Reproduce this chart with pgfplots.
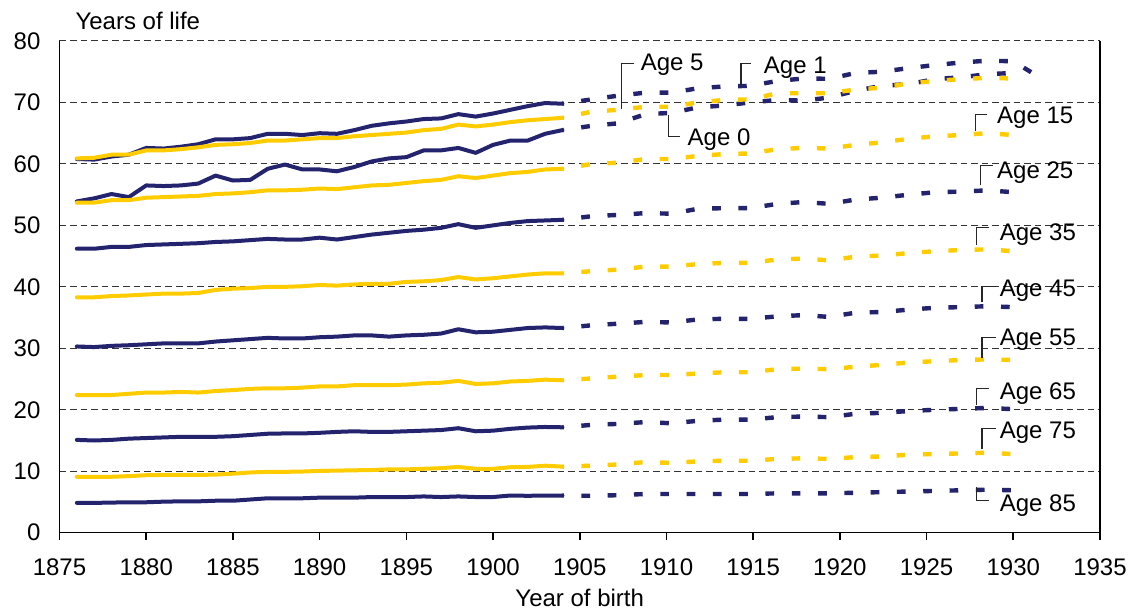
\documentclass[border=0pt]{standalone}
\usepackage{pgfplots}
\pgfplotsset{compat=1.18}
\usepackage{pgfplotstable}
\usepackage{fontspec}
\setmainfont{Liberation Sans}
\definecolor{navy}{HTML}{23236E}
\definecolor{gold}{HTML}{FFCC00}

\pgfplotstableread{
year a0 a1 a5 a15 a25 a35 a45 a55 a65 a75 a85
1876 53.9 60.8 60.9 53.7 46.2 38.3 30.3 22.4 15.1 9.1 4.85
1877 54.4 60.7 61.0 53.7 46.2 38.3 30.2 22.4 15.0 9.1 4.85
1878 55.1 61.2 61.5 54.1 46.5 38.5 30.4 22.4 15.1 9.1 4.9
1879 54.6 61.5 61.5 54.1 46.5 38.6 30.5 22.6 15.3 9.2 4.95
1880 56.5 62.6 62.2 54.5 46.8 38.75 30.65 22.8 15.4 9.35 4.95
1881 56.4 62.5 62.2 54.6 46.9 38.9 30.8 22.8 15.5 9.4 5.05
1882 56.5 62.8 62.4 54.7 47.0 38.9 30.8 22.9 15.6 9.4 5.1
1883 56.8 63.2 62.7 54.8 47.1 39.0 30.8 22.8 15.6 9.4 5.1
1884 58.1 64.0 63.1 55.1 47.3 39.5 31.1 23.05 15.6 9.45 5.2
1885 57.3 64.0 63.2 55.2 47.4 39.7 31.3 23.2 15.7 9.6 5.2
1886 57.4 64.2 63.4 55.4 47.6 39.8 31.5 23.4 15.9 9.8 5.4
1887 59.2 64.9 63.8 55.7 47.8 40.0 31.7 23.5 16.1 9.9 5.6
1888 59.9 64.9 63.8 55.7 47.7 40.0 31.6 23.5 16.15 9.9 5.6
1889 59.1 64.7 64.0 55.8 47.7 40.1 31.6 23.6 16.15 9.95 5.6
1890 59.1 65.0 64.2 56.0 48.0 40.3 31.8 23.8 16.25 10.05 5.7
1891 58.8 64.9 64.2 55.9 47.7 40.2 31.9 23.8 16.4 10.1 5.7
1892 59.5 65.5 64.5 56.2 48.1 40.4 32.1 24.0 16.5 10.15 5.7
1893 60.4 66.2 64.7 56.5 48.5 40.5 32.1 24.0 16.4 10.2 5.8
1894 60.9 66.6 64.9 56.6 48.8 40.5 31.9 24.0 16.4 10.3 5.8
1895 61.1 66.9 65.1 56.9 49.1 40.8 32.1 24.1 16.5 10.3 5.8
1896 62.2 67.3 65.5 57.2 49.3 40.9 32.2 24.3 16.6 10.4 5.9
1897 62.2 67.4 65.7 57.4 49.6 41.1 32.4 24.4 16.7 10.5 5.8
1898 62.6 68.1 66.4 58.0 50.2 41.6 33.1 24.7 17.0 10.7 5.9
1899 61.8 67.7 66.1 57.7 49.6 41.2 32.6 24.2 16.5 10.4 5.8
1900 63.1 68.2 66.4 58.1 50.0 41.4 32.7 24.3 16.6 10.4 5.8
1901 63.8 68.8 66.8 58.5 50.4 41.7 33.0 24.6 16.9 10.65 6.05
1902 63.8 69.4 67.1 58.7 50.7 42.0 33.3 24.7 17.1 10.7 6.0
1903 64.9 69.9 67.3 59.1 50.8 42.2 33.4 24.9 17.2 10.9 6.05
1904 65.5 69.8 67.5 59.2 50.9 42.2 33.3 24.8 17.15 10.75 6.05
}\solid

\pgfplotstableread{
year a0 a1 a5 a15 a25 a35 a45 a55 a65 a75 a85
1904 65.5 69.8 67.5 59.2 50.9 42.2 33.3 24.8 17.15 10.75 6.05
1905.7 66.2 70.5 68.5 60.0 51.5 42.55 33.75 25.1 17.55 10.9 6.0
1907.2 66.6 71.1 68.8 60.2 51.7 42.8 34.0 25.4 17.7 11.1 6.1
1908.8 68.1 71.6 69.3 60.8 52.0 43.3 34.3 25.65 18.0 11.5 6.3
1910.3 68.3 71.6 69.3 60.8 51.9 43.3 34.2 25.65 17.8 11.35 6.3
1911.8 69.2 72.3 70.0 61.3 52.7 43.7 34.7 25.9 18.2 11.6 6.3
1913.3 69.5 72.6 70.4 61.6 52.8 43.9 34.8 26.1 18.4 11.7 6.3
1914.8 70.0 72.7 70.5 61.7 52.8 43.9 34.8 26.1 18.4 11.7 6.3
1916.4 70.4 73.5 71.5 62.4 53.5 44.45 35.2 26.6 18.8 12.0 6.4
1917.9 70.3 73.9 71.5 62.6 53.8 44.6 35.4 26.7 18.9 12.1 6.4
1919.4 70.8 73.85 71.5 62.5 53.5 44.3 35.1 26.6 18.8 12.0 6.4
1920.9 71.9 74.8 72.1 63.1 54.2 44.9 35.8 27.0 19.35 12.3 6.5
1922.4 72.7 75.0 72.4 63.5 54.5 45.1 35.9 27.3 19.5 12.4 6.6
1924.0 73.0 75.6 73.1 64.1 55.0 45.5 36.3 27.7 19.8 12.7 6.7
1925.5 73.8 76.1 73.5 64.5 55.4 45.8 36.6 27.9 20.0 12.8 6.8
1927.0 74.1 76.5 73.8 64.7 55.5 46.0 36.7 28.1 20.15 12.9 6.9
1928.5 74.6 76.8 74.0 65.0 55.7 46.1 36.85 28.2 20.3 13.0 7.0
1930.0 74.8 76.7 73.9 64.7 55.4 45.8 36.7 28.1 20.1 12.8 6.9
1930.3 74.8 nan 73.9 64.7 55.4 45.8 36.7 28.1 20.1 12.8 6.9
1931.1 nan 74.8 nan nan nan nan nan nan nan nan nan
}\dashed

\tikzset{
  sol/.style={line width=2pt, line join=round, line cap=round},
  dsh/.style={line width=2.2pt, line cap=butt, line join=round, dash pattern=on 4.35pt off 8.8pt, dash phase=3.65pt},
  call/.style={black!85, line width=0.6pt},
  lab/.style={anchor=base west, inner sep=0pt, font=\fontsize{12}{14}\selectfont},
}

\begin{document}
\begin{tikzpicture}
\begin{axis}[
  at={(0,0)}, anchor=south west,
  scale only axis, width=520.25pt, height=245.85pt,
  xmin=1875, xmax=1935, ymin=0, ymax=80,
  xtick={1875,1880,...,1935}, ytick={0,10,...,80},
  xtick pos=left, ytick pos=left,
  tick align=outside,
  major tick length=3.5pt,
  ytick style={draw=none},
  xtick style={black, line width=0.8pt},
  axis line style={draw=none},
  ymajorgrids,
  grid style={black!80, line width=0.5pt, dash pattern=on 3.3pt off 2pt},
  tick label style={font=\fontsize{12}{14}\selectfont},
  xticklabel style={yshift=-6pt},
  yticklabel style={xshift=-2.5pt},
  /pgf/number format/assume math mode=true,
  /pgf/number format/1000 sep={},
  xlabel={Year of birth}, ylabel={Years of life},
  every axis x label/.style={at={(rel axis cs:0.5,0)}, anchor=center, yshift=-32.6pt, font=\fontsize{12}{14}\selectfont},
  every axis y label/.style={at={(rel axis cs:0,1)}, anchor=west, xshift=4.5pt, yshift=9.8pt, font=\fontsize{12}{14}\selectfont},
  clip=false,
  no markers,
]
\addplot[navy, sol] table[x=year, y=a0] {\solid};
\addplot[navy, sol] table[x=year, y=a1] {\solid};
\addplot[gold, sol] table[x=year, y=a5] {\solid};
\addplot[gold, sol] table[x=year, y=a15] {\solid};
\addplot[navy, sol] table[x=year, y=a25] {\solid};
\addplot[gold, sol] table[x=year, y=a35] {\solid};
\addplot[navy, sol] table[x=year, y=a45] {\solid};
\addplot[gold, sol] table[x=year, y=a55] {\solid};
\addplot[navy, sol] table[x=year, y=a65] {\solid};
\addplot[gold, sol] table[x=year, y=a75] {\solid};
\addplot[navy, sol] table[x=year, y=a85] {\solid};

\addplot[navy, dsh] table[x=year, y=a0] {\dashed};
\addplot[navy, dsh] table[x=year, y=a1] {\dashed};
\addplot[gold, dsh] table[x=year, y=a5] {\dashed};
\addplot[gold, dsh] table[x=year, y=a15] {\dashed};
\addplot[navy, dsh] table[x=year, y=a25] {\dashed};
\addplot[gold, dsh] table[x=year, y=a35] {\dashed};
\addplot[navy, dsh] table[x=year, y=a45] {\dashed};
\addplot[gold, dsh] table[x=year, y=a55] {\dashed};
\addplot[navy, dsh] table[x=year, y=a65] {\dashed};
\addplot[gold, dsh] table[x=year, y=a75] {\dashed};
\addplot[navy, dsh] table[x=year, y=a85] {\dashed};

% axis frame: left, bottom, right
\draw[black, line width=0.8pt] (rel axis cs:0,1) -- (rel axis cs:0,0) -- (rel axis cs:1,0) -- (rel axis cs:1,1);

% callouts
\draw[call] (axis cs:1907.4,68.9) |- (axis cs:1908.1,76.3);
\node[lab] at (axis cs:1908.5,75.2) {Age 5};
\draw[call] (axis cs:1914.3,72.9) |- (axis cs:1914.9,76.3);
\node[lab] at (axis cs:1915.6,74.7) {Age 1};
\draw[call] (axis cs:1910.1,68.0) |- (axis cs:1910.8,64.4);
\node[lab] at (axis cs:1911.2,63.0) {Age 0};
\draw[call] (axis cs:1927.8,65.4) |- (axis cs:1928.5,68.1);
\node[lab] at (axis cs:1929.05,66.6) {Age 15};
\draw[call] (axis cs:1928.1,56.5) |- (axis cs:1928.85,59.8);
\node[lab] at (axis cs:1929.05,57.7) {Age 25};
\draw[call] (axis cs:1927.9,46.8) |- (axis cs:1928.6,49.6);
\node[lab] at (axis cs:1929.2,47.6) {Age 35};
\draw[call] (axis cs:1928.2,37.6) |- (axis cs:1929.0,40.1);
\node[lab] at (axis cs:1929.2,38.5) {Age 45};
\draw[call] (axis cs:1928.2,28.5) |- (axis cs:1929.0,31.8);
\node[lab] at (axis cs:1929.2,30.4) {Age 55};
\draw[call] (axis cs:1927.9,20.8) |- (axis cs:1928.6,23.4);
\node[lab] at (axis cs:1929.2,21.7) {Age 65};
\draw[call] (axis cs:1928.2,13.6) |- (axis cs:1929.0,17.0);
\node[lab] at (axis cs:1929.2,15.4) {Age 75};
\draw[call] (axis cs:1927.9,7.4) |- (axis cs:1928.6,5.2);
\node[lab] at (axis cs:1929.2,3.4) {Age 85};
\end{axis}
\pgfresetboundingbox
\path[use as bounding box] (-29.75pt,-38.65pt) rectangle (535.25pt,266.35pt);
\end{tikzpicture}
\end{document}
